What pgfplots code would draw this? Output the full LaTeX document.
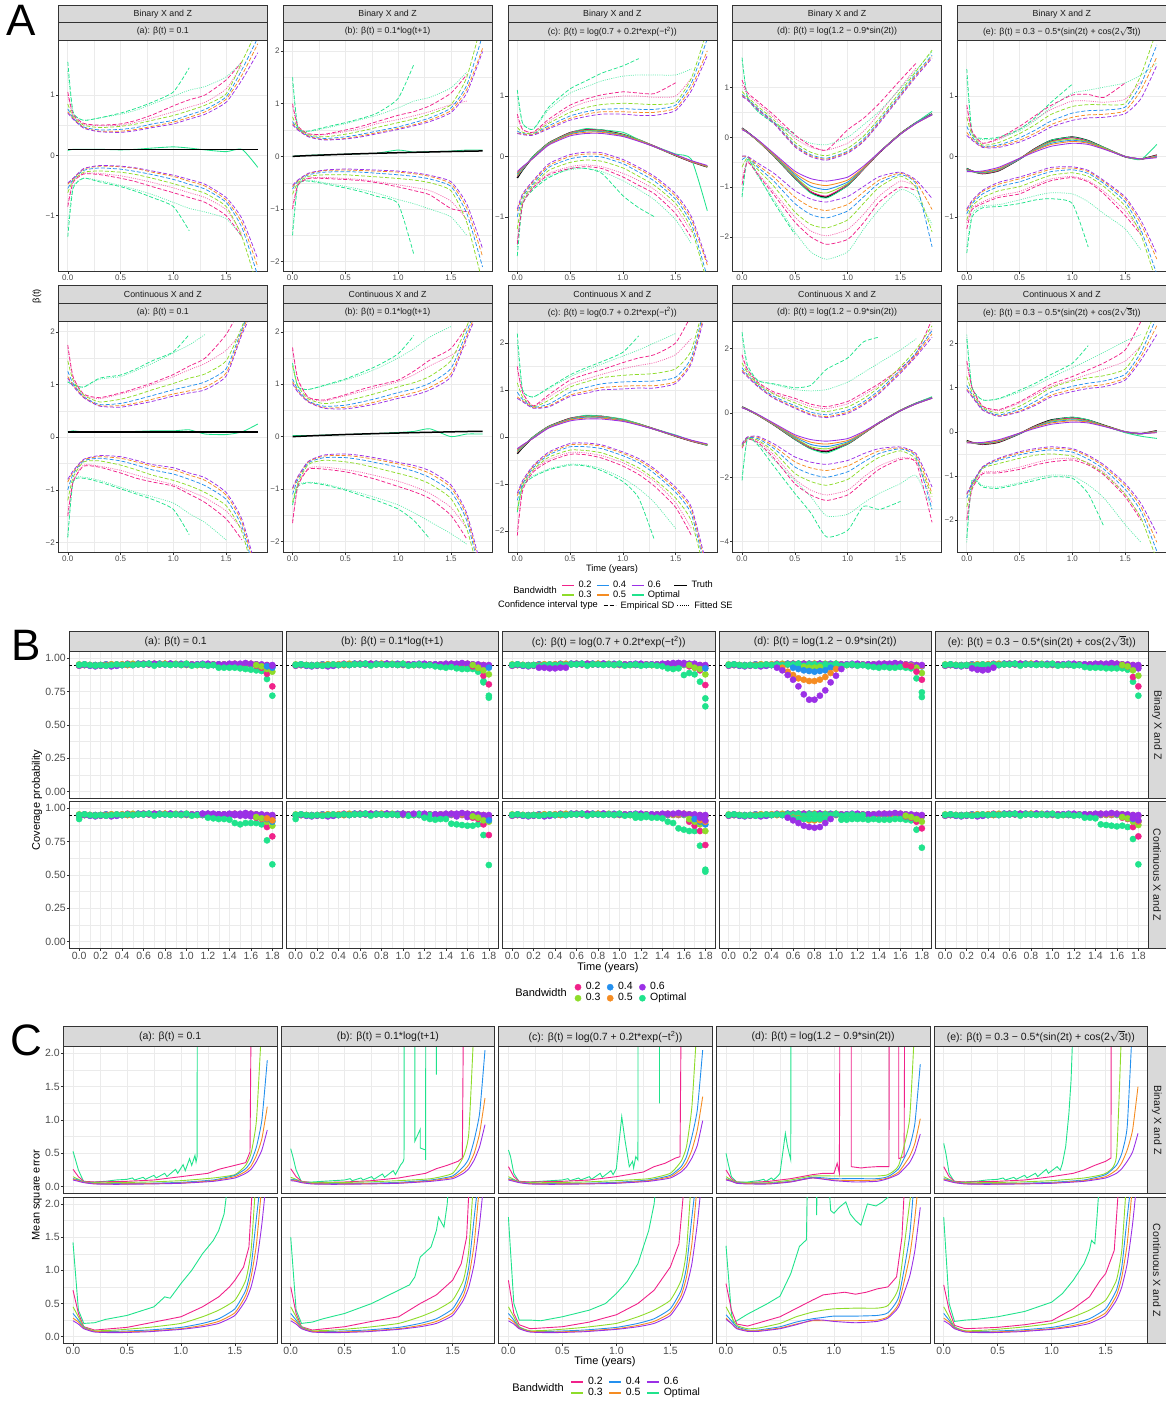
\documentclass[border=0pt]{standalone}
\usepackage{pgfplots}
\pgfplotsset{compat=1.18}
\usepackage{pgfplotstable}
\usepackage{fontspec}
\setmainfont{Liberation Sans}
\definecolor{c2}{HTML}{F0228A}
\definecolor{c3}{HTML}{8EDC2A}
\definecolor{c4}{HTML}{2490EE}
\definecolor{c5}{HTML}{F58C22}
\definecolor{c6}{HTML}{9B30E6}
\definecolor{co}{HTML}{20E38C}
\definecolor{stripgray}{HTML}{D9D9D9}
\definecolor{g10}{HTML}{1A1A1A}
\definecolor{g20}{HTML}{333333}
\definecolor{g30}{HTML}{4D4D4D}
\definecolor{g92}{HTML}{EBEBEB}
\newcommand\fA{\fontsize{8.8}{10}\selectfont}
\newcommand\fT{\fontsize{8}{9}\selectfont}
\newcommand\fB{\fontsize{10.5}{12}\selectfont}
\newcommand\fL{\fontsize{9.3}{11}\selectfont}
\newcommand\fLB{\fontsize{11}{13}\selectfont}
\pgfplotsset{
 gg/.style={scale only axis, anchor=north west,
  axis line style={g20, line width=0.6pt},
  grid=both, major grid style={g92, line width=0.7pt}, minor grid style={g92, line width=0.35pt},
  minor tick num=1, minor tick length=0pt, major tick length=2.5pt,
  tick align=outside, tick style={g20, line width=0.5pt}, tick pos=left,
  unbounded coords=jump, tick label style={text=g30}},
 Ap/.style={gg, width=209pt, xmin=-0.09, xmax=1.89, xtick={0,0.5,1,1.5}, xticklabels={0.0,0.5,1.0,1.5}, tick label style={font=\fT, inner sep=0.8pt}},
 Bp/.style={gg, width=212.5pt, height=146.6pt, xmin=-0.09, xmax=1.89, ymin=-0.05, ymax=1.05,
  xtick={0,0.2,0.4,0.6,0.8,1,1.2,1.4,1.6,1.8}, xticklabels={0.0,0.2,0.4,0.6,0.8,1.0,1.2,1.4,1.6,1.8},
  ytick={0,0.25,0.5,0.75,1}, yticklabels={0.00,0.25,0.50,0.75,1.00}, tick label style={font=\fB, inner sep=1pt}},
 Cp/.style={gg, width=213.7pt, xmin=-0.09, xmax=1.89, ymin=-0.1, ymax=2.1,
  xtick={0,0.5,1,1.5}, xticklabels={0.0,0.5,1.0,1.5},
  ytick={0,0.5,1,1.5,2}, yticklabels={0.0,0.5,1.0,1.5,2.0}, tick label style={font=\fB, inner sep=1pt}},
 noY/.style={ymajorticks=false},
 noX/.style={xmajorticks=false},
 dsh/.style={line width=0.75pt, dash pattern=on 4pt off 2pt, smooth, tension=0.35},
 dtt/.style={line width=0.75pt, dash pattern=on 1pt off 1.2pt, smooth, tension=0.35, opacity=0.7},
 est/.style={line width=0.85pt, smooth, tension=0.35},
 tru/.style={line width=1.5pt, smooth, tension=0.35},
 Bm/.style={only marks, mark=*, mark size=3.1pt},
 Cl/.style={line width=0.9pt},
 Cs/.style={line width=0.9pt, smooth, tension=0.3},
}
% ---------------- A data (one series per line, transposed) ----------------
\pgfplotstableread{
name c0 c1 c2 c3 c4 c5 c6 c7 c8 c9 c10 c11 c12
t 0 0.05 0.15 0.3 0.5 0.65 0.8 1.0 1.15 1.3 1.5 1.65 1.8
tr 0.1 0.1 0.1 0.1 0.1 0.1 0.1 0.1 0.1 0.1 0.1 0.1 0.1
eo 0.08 0.10 0.10 0.10 0.09 0.10 0.12 0.14 0.12 0.09 0.06 0.10 -0.20
u6 0.70 0.60 0.45 0.39 0.38 0.41 0.46 0.52 0.60 0.68 0.88 1.25 1.70
u5 0.72 0.61 0.46 0.40 0.40 0.43 0.48 0.55 0.63 0.72 0.93 1.33 1.85
u4 0.77 0.62 0.47 0.42 0.43 0.46 0.52 0.58 0.67 0.76 0.97 1.42 1.95
u3 0.85 0.64 0.50 0.46 0.48 0.52 0.58 0.66 0.74 0.83 1.02 1.55 2.10
u2 1.05 0.68 0.53 0.50 0.52 0.58 0.67 0.82 0.92 1.00 1.25 1.55 nan
uo 1.55 0.72 0.58 0.62 0.70 0.78 0.88 1.05 1.45 nan nan nan nan
fu2 1.00 0.66 0.52 0.49 0.50 0.55 0.62 0.72 0.80 0.88 1.10 1.50 nan
fuo 1.40 0.70 0.58 0.62 0.68 0.75 0.85 0.98 1.08 1.14 1.30 1.55 nan
l6 -0.46 -0.38 -0.22 -0.17 -0.18 -0.21 -0.26 -0.33 -0.40 -0.48 -0.70 -1.05 -1.72
l5 -0.48 -0.39 -0.23 -0.18 -0.19 -0.22 -0.28 -0.35 -0.43 -0.51 -0.74 -1.12 -1.85
l4 -0.55 -0.40 -0.25 -0.21 -0.23 -0.27 -0.32 -0.40 -0.48 -0.56 -0.78 -1.20 -2.00
l3 -0.62 -0.42 -0.28 -0.26 -0.28 -0.32 -0.38 -0.47 -0.55 -0.63 -0.85 -1.35 -2.20
l2 -0.85 -0.45 -0.31 -0.32 -0.38 -0.44 -0.52 -0.62 -0.70 -0.78 -1.00 -1.35 nan
lo -1.35 -0.55 -0.38 -0.44 -0.52 -0.60 -0.70 -0.85 -1.25 nan nan nan nan
fl2 -0.80 -0.44 -0.30 -0.30 -0.34 -0.39 -0.45 -0.54 -0.62 -0.70 -0.90 -1.30 nan
flo -1.20 -0.52 -0.38 -0.42 -0.50 -0.57 -0.65 -0.78 -0.88 -0.94 -1.05 -1.35 nan
}\rAa
\pgfplotstableread{
name c0 c1 c2 c3 c4 c5 c6 c7 c8 c9 c10 c11 c12
t 0 0.05 0.15 0.3 0.5 0.65 0.8 1.0 1.15 1.3 1.5 1.65 1.8
tr 0 0.005 0.014 0.026 0.041 0.050 0.059 0.069 0.077 0.083 0.092 0.098 0.103
eo 0.0 0.01 0.02 0.03 0.04 0.05 0.06 0.12 0.08 0.09 0.10 0.12 0.12
u6 0.60 0.50 0.37 0.31 0.33 0.37 0.43 0.51 0.58 0.66 0.83 1.20 1.99
u5 0.62 0.51 0.38 0.32 0.34 0.39 0.45 0.53 0.60 0.69 0.87 1.27 2.05
u4 0.66 0.52 0.39 0.34 0.37 0.42 0.48 0.56 0.64 0.73 0.92 1.35 2.30
u3 0.75 0.54 0.41 0.37 0.42 0.48 0.55 0.64 0.71 0.80 0.98 1.50 2.60
u2 1.00 0.58 0.43 0.42 0.50 0.57 0.66 0.78 0.85 0.96 1.20 1.55 nan
uo 1.50 0.55 0.48 0.55 0.64 0.72 0.82 1.10 1.75 nan nan nan nan
fu2 0.95 0.56 0.42 0.41 0.47 0.53 0.62 0.70 0.77 0.85 0.98 1.05 nan
fuo 1.40 0.55 0.47 0.53 0.62 0.70 0.78 0.92 1.05 1.12 1.30 1.60 nan
l6 -0.55 -0.45 -0.32 -0.26 -0.24 -0.25 -0.26 -0.28 -0.31 -0.36 -0.48 -0.90 -1.75
l5 -0.58 -0.46 -0.33 -0.27 -0.26 -0.27 -0.28 -0.30 -0.33 -0.38 -0.52 -0.98 -1.90
l4 -0.62 -0.47 -0.35 -0.30 -0.29 -0.30 -0.32 -0.35 -0.38 -0.43 -0.57 -1.08 -2.10
l3 -0.72 -0.50 -0.38 -0.35 -0.35 -0.37 -0.39 -0.42 -0.45 -0.50 -0.65 -1.25 -2.40
l2 -1.00 -0.55 -0.42 -0.42 -0.44 -0.46 -0.50 -0.58 -0.65 -0.73 -0.99 -1.05 nan
lo -1.50 -0.55 -0.47 -0.52 -0.60 -0.67 -0.76 -0.90 -1.87 nan nan nan nan
fl2 -0.95 -0.53 -0.41 -0.40 -0.42 -0.44 -0.48 -0.54 -0.59 -0.65 -0.85 -1.20 nan
flo -1.40 -0.53 -0.45 -0.50 -0.57 -0.63 -0.70 -0.82 -0.90 -1.00 -1.15 -1.50 nan
}\rAb
\pgfplotstableread{
name c0 c1 c2 c3 c4 c5 c6 c7 c8 c9 c10 c11 c12
t 0 0.05 0.15 0.3 0.5 0.65 0.8 1.0 1.15 1.3 1.5 1.65 1.8
tr -0.357 -0.224 -0.007 0.222 0.391 0.440 0.434 0.362 0.272 0.165 0.016 -0.087 -0.173
e6 -0.25 -0.17 -0.03 0.19 0.34 0.38 0.38 0.33 0.25 0.16 0.03 -0.07 -0.15
e5 -0.27 -0.18 -0.03 0.20 0.36 0.40 0.40 0.34 0.26 0.16 0.02 -0.08 -0.16
e4 -0.29 -0.19 -0.02 0.21 0.37 0.42 0.41 0.35 0.26 0.16 0.02 -0.08 -0.16
e3 -0.31 -0.20 -0.01 0.22 0.38 0.43 0.42 0.36 0.27 0.16 0.02 -0.08 -0.17
e2 -0.33 -0.21 -0.01 0.22 0.39 0.44 0.43 0.36 0.27 0.17 0.02 -0.09 -0.17
eo -0.33 -0.22 0.00 0.22 0.39 0.46 0.44 0.40 0.28 0.17 0.04 -0.05 -0.90
u6 0.38 0.36 0.35 0.46 0.60 0.66 0.70 0.70 0.68 0.68 0.76 1.09 1.67
u5 0.39 0.37 0.36 0.48 0.63 0.70 0.74 0.74 0.73 0.73 0.80 1.15 1.75
u4 0.42 0.38 0.37 0.51 0.67 0.74 0.78 0.79 0.78 0.78 0.85 1.22 1.95
u3 0.48 0.40 0.38 0.55 0.73 0.81 0.86 0.88 0.87 0.86 0.90 1.30 2.10
u2 0.70 0.45 0.40 0.62 0.85 0.95 1.02 1.07 1.05 1.04 1.22 nan nan
uo 1.10 0.55 0.45 0.82 1.12 1.25 1.38 1.50 1.62 nan nan nan nan
fu2 0.65 0.44 0.40 0.58 0.80 0.90 0.96 1.00 1.00 0.98 1.00 1.30 nan
fuo 1.00 0.55 0.45 0.78 1.05 1.15 1.25 1.33 1.35 1.35 1.35 1.45 nan
l6 -0.87 -0.62 -0.40 -0.12 0.03 0.07 0.06 -0.05 -0.18 -0.33 -0.62 -1.00 -1.75
l5 -0.90 -0.64 -0.42 -0.15 0.00 0.04 0.03 -0.08 -0.21 -0.36 -0.66 -1.05 -1.80
l4 -1.00 -0.67 -0.45 -0.18 -0.04 0.00 -0.01 -0.12 -0.26 -0.41 -0.71 -1.12 -2.00
l3 -1.20 -0.72 -0.48 -0.23 -0.10 -0.06 -0.08 -0.19 -0.33 -0.48 -0.78 -1.20 -2.10
l2 -1.45 -0.80 -0.52 -0.30 -0.20 -0.17 -0.20 -0.34 -0.48 -0.62 -0.95 -1.35 nan
lo -1.65 -0.80 -0.55 -0.35 -0.20 -0.20 -0.28 -0.65 -0.85 -1.00 nan nan nan
fl2 -1.40 -0.78 -0.50 -0.28 -0.17 -0.14 -0.17 -0.28 -0.40 -0.55 -0.85 -1.25 nan
flo -1.50 -0.75 -0.52 -0.33 -0.22 -0.20 -0.25 -0.40 -0.55 -0.72 -1.05 -1.45 nan
}\rAc
\pgfplotstableread{
name c0 c1 c2 c3 c4 c5 c6 c7 c8 c9 c10 c11 c12
t 0 0.05 0.15 0.3 0.5 0.65 0.8 1.0 1.15 1.3 1.5 1.65 1.8
tr 0.182 0.105 -0.068 -0.368 -0.815 -1.100 -1.203 -0.963 -0.637 -0.307 0.071 0.294 0.469
e6 0.15 0.10 -0.05 -0.32 -0.68 -0.83 -0.88 -0.80 -0.58 -0.30 0.06 0.28 0.45
e5 0.16 0.10 -0.06 -0.34 -0.72 -0.91 -0.97 -0.86 -0.61 -0.30 0.06 0.28 0.45
e4 0.17 0.10 -0.06 -0.35 -0.75 -0.98 -1.05 -0.90 -0.62 -0.30 0.06 0.29 0.46
e3 0.17 0.10 -0.07 -0.36 -0.78 -1.05 -1.12 -0.93 -0.63 -0.30 0.07 0.29 0.46
e2 0.18 0.10 -0.07 -0.37 -0.80 -1.09 -1.18 -0.95 -0.64 -0.31 0.07 0.29 0.47
eo 0.18 0.10 -0.07 -0.37 -0.82 -1.12 -1.22 -0.97 -0.64 -0.30 0.07 0.30 0.52
u6 0.82 0.75 0.55 0.28 -0.19 -0.39 -0.46 -0.32 -0.09 0.28 0.82 1.22 1.59
u5 0.84 0.76 0.56 0.29 -0.17 -0.37 -0.44 -0.30 -0.07 0.30 0.84 1.25 1.62
u4 0.86 0.78 0.58 0.31 -0.15 -0.35 -0.42 -0.28 -0.04 0.33 0.87 1.28 1.65
u3 0.92 0.81 0.62 0.35 -0.10 -0.30 -0.37 -0.22 0.02 0.38 0.92 1.33 1.75
u2 1.15 0.90 0.72 0.45 0.05 -0.17 -0.26 0.15 0.38 0.68 1.15 1.49 nan
uo 1.60 0.82 0.52 0.28 0.08 nan nan nan nan nan nan nan nan
fu2 1.05 0.86 0.68 0.40 -0.02 -0.20 -0.26 -0.12 0.12 0.48 1.00 1.40 nan
fuo 1.55 0.80 0.52 0.30 0.02 -0.12 -0.15 0.00 0.25 0.52 0.98 1.35 1.72
l6 -0.38 -0.38 -0.52 -0.72 -1.07 -1.24 -1.30 -1.19 -0.99 -0.79 -0.70 -0.86 -1.23
l5 -0.38 -0.39 -0.56 -0.80 -1.20 -1.40 -1.47 -1.35 -1.10 -0.86 -0.72 -0.90 -1.45
l4 -0.45 -0.40 -0.60 -0.88 -1.33 -1.55 -1.62 -1.48 -1.20 -0.92 -0.75 -0.95 -2.20
l3 -0.60 -0.42 -0.65 -0.98 -1.50 -1.75 -1.82 -1.66 -1.33 -1.00 -0.78 -1.02 -1.90
l2 -0.95 -0.50 -0.75 -1.15 -1.70 -2.00 -2.15 -2.05 -1.72 -1.30 -1.00 -1.07 nan
lo -1.20 -0.45 -0.75 -1.30 -1.95 nan nan nan nan nan nan nan nan
fl2 -0.85 -0.48 -0.72 -1.10 -1.60 -1.88 -1.98 -1.85 -1.55 -1.18 -0.88 -0.98 nan
flo -1.15 -0.45 -0.78 -1.25 -1.90 -2.30 -2.45 -2.30 -1.85 -1.45 -1.05 -1.20 -1.75
}\rAd
\pgfplotstableread{
name c0 c1 c2 c3 c4 c5 c6 c7 c8 c9 c10 c11 c12
t 0 0.05 0.15 0.3 0.5 0.65 0.8 1.0 1.15 1.3 1.5 1.65 1.8
tr -0.200 -0.242 -0.282 -0.235 -0.041 0.133 0.266 0.321 0.262 0.146 -0.003 -0.042 0.022
e6 -0.25 -0.25 -0.24 -0.18 -0.03 0.08 0.17 0.22 0.20 0.12 0.00 -0.04 -0.02
e5 -0.24 -0.25 -0.25 -0.20 -0.03 0.10 0.20 0.25 0.22 0.13 0.00 -0.04 -0.01
e4 -0.23 -0.25 -0.26 -0.21 -0.04 0.11 0.22 0.27 0.23 0.13 0.00 -0.04 0.00
e3 -0.22 -0.25 -0.27 -0.22 -0.04 0.12 0.24 0.29 0.24 0.14 0.00 -0.04 0.01
e2 -0.21 -0.24 -0.28 -0.23 -0.04 0.13 0.25 0.31 0.25 0.14 0.00 -0.04 0.02
eo -0.20 -0.24 -0.28 -0.23 -0.04 0.13 0.27 0.32 0.26 0.15 0.00 -0.05 0.20
u6 0.35 0.27 0.15 0.15 0.24 0.35 0.49 0.60 0.64 0.65 0.71 0.96 1.51
u5 0.40 0.29 0.16 0.17 0.27 0.39 0.53 0.65 0.69 0.70 0.76 1.10 1.65
u4 0.50 0.32 0.17 0.19 0.31 0.44 0.59 0.72 0.76 0.77 0.82 1.20 1.85
u3 0.65 0.36 0.19 0.23 0.38 0.53 0.70 0.83 0.86 0.86 0.88 1.35 2.10
u2 0.85 0.42 0.22 0.30 0.50 0.68 0.85 1.02 1.03 0.98 1.22 nan nan
uo 1.45 0.40 0.30 0.32 0.45 0.65 0.90 1.20 nan nan nan nan nan
fu2 0.80 0.40 0.22 0.28 0.46 0.62 0.78 0.92 0.92 0.90 0.95 1.25 nan
fuo 1.30 0.38 0.28 0.30 0.43 0.60 0.82 1.05 1.10 1.15 1.22 1.35 1.55
l6 -0.87 -0.73 -0.56 -0.43 -0.34 -0.26 -0.18 -0.17 -0.23 -0.40 -0.67 -1.06 -1.61
l5 -0.90 -0.75 -0.58 -0.46 -0.37 -0.29 -0.21 -0.19 -0.25 -0.42 -0.70 -1.12 -1.70
l4 -0.95 -0.78 -0.62 -0.50 -0.42 -0.33 -0.25 -0.22 -0.28 -0.45 -0.75 -1.22 -1.95
l3 -1.05 -0.82 -0.68 -0.57 -0.50 -0.40 -0.31 -0.27 -0.33 -0.50 -0.82 -1.30 -2.10
l2 -1.20 -0.88 -0.78 -0.68 -0.62 -0.50 -0.40 -0.35 -0.42 -0.62 -0.98 -1.30 nan
lo -1.60 -1.00 -0.85 -0.83 -0.78 -0.72 -0.70 -0.78 -1.50 nan nan nan nan
fl2 -1.10 -0.85 -0.75 -0.65 -0.58 -0.47 -0.37 -0.33 -0.40 -0.58 -0.90 -1.25 nan
flo -1.50 -0.95 -0.82 -0.80 -0.72 -0.65 -0.60 -0.62 -0.75 -0.95 -1.20 -1.55 nan
}\rAe
\pgfplotstableread{
name c0 c1 c2 c3 c4 c5 c6 c7 c8 c9 c10 c11 c12
t 0 0.05 0.15 0.3 0.5 0.65 0.8 1.0 1.15 1.3 1.5 1.65 1.8
tr 0.1 0.1 0.1 0.1 0.1 0.1 0.1 0.1 0.1 0.1 0.1 0.1 0.1
eo 0.10 0.12 0.10 0.10 0.10 0.11 0.12 0.12 0.14 0.06 0.05 0.10 0.25
u6 1.12 0.97 0.75 0.59 0.57 0.62 0.68 0.78 0.84 0.90 1.16 1.95 2.6
u5 1.15 0.99 0.76 0.60 0.60 0.65 0.72 0.82 0.88 0.95 1.22 2.00 2.7
u4 1.25 1.02 0.77 0.62 0.64 0.71 0.79 0.90 0.97 1.05 1.30 2.05 2.8
u3 1.45 1.08 0.80 0.67 0.72 0.80 0.90 1.02 1.12 1.20 1.45 2.10 2.9
u2 1.75 1.15 0.82 0.75 0.84 0.93 1.03 1.19 1.35 1.50 1.95 2.50 nan
uo 1.05 1.00 0.95 1.12 1.18 1.30 1.45 1.62 1.95 nan nan nan nan
fu2 1.70 1.12 0.80 0.73 0.82 0.90 1.00 1.15 1.28 1.40 1.65 2.00 nan
fuo 1.05 0.98 0.95 1.10 1.15 1.27 1.40 1.60 1.75 1.95 nan nan nan
l6 -0.80 -0.64 -0.42 -0.35 -0.37 -0.44 -0.52 -0.58 -0.68 -0.77 -1.05 -1.56 -2.6
l5 -0.85 -0.66 -0.43 -0.37 -0.40 -0.47 -0.55 -0.62 -0.72 -0.82 -1.10 -1.62 -2.7
l4 -1.00 -0.70 -0.45 -0.40 -0.45 -0.53 -0.62 -0.70 -0.80 -0.92 -1.18 -1.70 -2.8
l3 -1.20 -0.76 -0.47 -0.45 -0.53 -0.62 -0.72 -0.82 -0.92 -1.05 -1.30 -1.80 -2.9
l2 -1.50 -0.85 -0.55 -0.57 -0.68 -0.78 -0.85 -0.93 -1.08 -1.24 -1.55 -1.95 nan
lo -1.90 -0.85 -0.78 -0.85 -0.98 -1.08 -1.18 -1.37 -1.85 nan nan nan nan
fl2 -1.45 -0.83 -0.53 -0.55 -0.63 -0.72 -0.80 -0.90 -1.02 -1.15 -1.40 -1.75 nan
flo -1.90 -0.82 -0.76 -0.82 -0.95 -1.05 -1.13 -1.25 -1.45 -1.62 -1.95 nan nan
}\rBa
\pgfplotstableread{
name c0 c1 c2 c3 c4 c5 c6 c7 c8 c9 c10 c11 c12
t 0 0.05 0.15 0.3 0.5 0.65 0.8 1.0 1.15 1.3 1.5 1.65 1.8
tr 0 0.005 0.014 0.026 0.041 0.050 0.059 0.069 0.077 0.083 0.092 0.098 0.103
eo 0.02 0.02 0.02 0.03 0.04 0.05 0.06 0.08 0.10 0.15 0.00 0.05 0.05
u6 1.01 0.85 0.66 0.54 0.53 0.57 0.63 0.73 0.79 0.89 1.14 1.87 2.6
u5 1.05 0.87 0.67 0.55 0.56 0.60 0.67 0.77 0.84 0.94 1.20 1.92 2.7
u4 1.10 0.90 0.68 0.58 0.60 0.66 0.73 0.84 0.91 1.02 1.30 2.00 2.8
u3 1.35 0.97 0.72 0.63 0.68 0.75 0.83 0.95 1.03 1.15 1.45 2.10 2.9
u2 1.70 1.10 0.75 0.70 0.80 0.90 0.98 1.08 1.25 1.46 1.68 2.10 nan
uo 1.40 0.95 0.90 0.98 1.10 1.22 1.35 1.58 1.93 nan nan nan nan
fu2 1.65 1.08 0.74 0.68 0.78 0.86 0.94 1.05 1.18 1.35 1.55 1.75 nan
fuo 1.40 0.95 0.90 0.97 1.08 1.18 1.30 1.50 1.68 1.90 2.10 nan nan
l6 -0.98 -0.76 -0.47 -0.35 -0.33 -0.36 -0.41 -0.49 -0.55 -0.65 -0.92 -1.46 -2.6
l5 -1.00 -0.78 -0.48 -0.37 -0.36 -0.39 -0.44 -0.52 -0.59 -0.70 -0.97 -1.52 -2.7
l4 -1.10 -0.82 -0.50 -0.40 -0.40 -0.44 -0.50 -0.58 -0.66 -0.78 -1.05 -1.60 -2.8
l3 -1.25 -0.88 -0.53 -0.45 -0.48 -0.53 -0.60 -0.70 -0.78 -0.90 -1.18 -1.75 -2.9
l2 -1.65 -0.95 -0.62 -0.62 -0.67 -0.74 -0.82 -0.95 -1.05 -1.18 -1.50 -1.95 nan
lo -1.30 -0.95 -0.88 -0.92 -1.02 -1.12 -1.22 -1.38 -1.60 -1.95 nan nan nan
fl2 -1.60 -0.93 -0.60 -0.58 -0.63 -0.68 -0.75 -0.85 -0.95 -1.08 -1.35 -1.75 nan
flo -1.30 -0.92 -0.87 -0.90 -1.00 -1.08 -1.17 -1.30 -1.45 -1.62 -1.85 -2.05 nan
}\rBb
\pgfplotstableread{
name c0 c1 c2 c3 c4 c5 c6 c7 c8 c9 c10 c11 c12
t 0 0.05 0.15 0.3 0.5 0.65 0.8 1.0 1.15 1.3 1.5 1.65 1.8
eo -0.33 -0.22 0.00 0.22 0.39 0.46 0.44 0.38 0.28 0.17 0.04 -0.08 -0.18
u6 0.82 0.75 0.61 0.64 0.86 0.93 1.00 1.02 1.04 1.04 1.14 1.57 2.8
u5 0.85 0.77 0.62 0.66 0.89 0.97 1.05 1.08 1.09 1.09 1.18 1.62 2.9
u4 0.95 0.80 0.63 0.70 0.95 1.05 1.13 1.17 1.18 1.19 1.27 1.70 3.0
u3 1.15 0.85 0.64 0.78 1.06 1.17 1.26 1.31 1.33 1.35 1.45 1.85 3.1
u2 1.50 0.95 0.66 0.90 1.21 1.33 1.43 1.58 1.68 1.75 2.00 2.60 nan
uo 2.20 1.00 0.85 1.05 1.32 1.47 1.60 1.80 2.15 nan nan nan nan
fu2 1.45 0.93 0.65 0.85 1.12 1.23 1.33 1.45 1.52 1.58 1.75 2.10 nan
fuo 2.00 1.00 0.85 1.03 1.28 1.42 1.55 1.72 1.85 2.00 2.20 nan nan
l6 -1.20 -0.93 -0.61 -0.32 -0.14 -0.13 -0.17 -0.32 -0.46 -0.68 -1.07 -1.50 -2.8
l5 -1.25 -0.96 -0.63 -0.35 -0.17 -0.16 -0.20 -0.35 -0.50 -0.72 -1.12 -1.56 -2.9
l4 -1.35 -1.00 -0.66 -0.38 -0.21 -0.21 -0.25 -0.40 -0.55 -0.78 -1.18 -1.65 -3.0
l3 -1.55 -1.05 -0.70 -0.43 -0.28 -0.29 -0.34 -0.50 -0.66 -0.90 -1.30 -1.80 -3.1
l2 -2.10 -1.15 -0.75 -0.52 -0.37 -0.38 -0.45 -0.62 -0.80 -1.05 -1.50 -2.10 nan
lo -1.60 -1.05 -0.85 -0.70 -0.60 -0.62 -0.72 -0.95 -1.30 -2.20 nan nan nan
fl2 -2.00 -1.10 -0.72 -0.48 -0.33 -0.34 -0.40 -0.55 -0.72 -0.95 -1.40 -1.95 nan
flo -1.60 -1.00 -0.83 -0.68 -0.58 -0.60 -0.68 -0.88 -1.10 -1.40 -1.95 nan nan
}\rBc
\pgfplotstableread{
name c0 c1 c2 c3 c4 c5 c6 c7 c8 c9 c10 c11 c12
t 0 0.05 0.15 0.3 0.5 0.65 0.8 1.0 1.15 1.3 1.5 1.65 1.8
eo 0.18 0.10 -0.07 -0.37 -0.82 -1.12 -1.25 -0.97 -0.64 -0.30 0.07 0.30 0.50
u6 1.28 1.12 0.81 0.45 0.14 -0.07 -0.15 -0.02 0.24 0.60 1.23 1.75 2.35
u5 1.32 1.15 0.83 0.47 0.17 -0.04 -0.12 0.02 0.28 0.64 1.27 1.80 2.45
u4 1.40 1.18 0.86 0.51 0.22 0.02 -0.06 0.08 0.34 0.70 1.33 1.87 2.55
u3 1.55 1.25 0.90 0.58 0.31 0.12 0.04 0.18 0.44 0.80 1.43 1.97 2.70
u2 1.80 1.35 0.95 0.65 0.45 0.27 0.19 0.35 0.62 0.91 1.38 1.85 2.90
uo 2.50 1.50 1.00 0.90 0.78 0.85 1.35 1.70 2.20 2.35 nan nan nan
fu2 1.75 1.30 0.92 0.60 0.38 0.20 0.13 0.28 0.55 0.85 1.30 1.80 2.60
fuo 2.40 1.40 1.00 0.88 0.72 0.68 0.72 0.95 1.25 1.55 1.95 2.30 nan
l6 -0.96 -0.75 -0.73 -0.96 -1.37 -1.53 -1.60 -1.48 -1.27 -1.11 -1.06 -1.27 -2.30
l5 -0.98 -0.76 -0.76 -1.03 -1.52 -1.71 -1.79 -1.65 -1.40 -1.18 -1.09 -1.32 -2.50
l4 -1.00 -0.77 -0.80 -1.10 -1.68 -1.90 -2.00 -1.83 -1.53 -1.26 -1.12 -1.38 -3.00
l3 -1.05 -0.78 -0.85 -1.20 -1.88 -2.13 -2.25 -2.07 -1.70 -1.38 -1.18 -1.45 -2.60
l2 -1.10 -0.82 -0.92 -1.40 -2.20 -2.55 -2.72 -2.55 -2.15 -1.75 -1.45 -1.55 -3.40
lo -2.10 -0.80 -1.00 -1.65 -2.50 -3.10 -3.85 -3.65 -2.90 -3.00 -2.75 nan nan
fl2 -1.05 -0.80 -0.88 -1.30 -2.05 -2.40 -2.55 -2.40 -2.00 -1.65 -1.40 -1.50 -2.80
flo -2.00 -0.85 -0.95 -1.45 -2.10 -2.60 -3.20 -3.15 -2.80 -2.50 -2.20 -1.95 -3.00
}\rBd
\pgfplotstableread{
name c0 c1 c2 c3 c4 c5 c6 c7 c8 c9 c10 c11 c12
t 0 0.05 0.15 0.3 0.5 0.65 0.8 1.0 1.15 1.3 1.5 1.65 1.8
eo -0.22 -0.25 -0.27 -0.22 -0.04 0.12 0.26 0.33 0.27 0.14 -0.02 -0.10 -0.15
u6 0.94 0.79 0.49 0.35 0.45 0.60 0.79 0.91 0.98 1.02 1.17 1.62 2.20
u5 0.97 0.81 0.50 0.36 0.47 0.63 0.83 0.96 1.03 1.07 1.22 1.70 2.40
u4 1.05 0.84 0.52 0.38 0.51 0.69 0.90 1.03 1.10 1.15 1.30 1.80 2.60
u3 1.25 0.90 0.55 0.42 0.58 0.78 1.00 1.15 1.22 1.27 1.42 1.95 2.80
u2 1.60 1.00 0.58 0.50 0.68 0.88 1.08 1.25 1.40 1.56 1.85 2.50 nan
uo 2.10 1.00 0.72 0.75 0.94 1.10 1.30 1.55 1.95 nan nan nan nan
fu2 1.55 0.98 0.57 0.48 0.65 0.84 1.03 1.18 1.30 1.42 1.60 1.95 nan
fuo 2.20 1.00 0.72 0.74 0.90 1.05 1.23 1.45 1.62 1.80 2.05 2.20 nan
l6 -1.40 -1.17 -0.79 -0.60 -0.45 -0.38 -0.34 -0.38 -0.53 -0.75 -1.17 -1.62 -2.30
l5 -1.42 -1.18 -0.80 -0.62 -0.48 -0.41 -0.37 -0.41 -0.56 -0.79 -1.22 -1.70 -2.50
l4 -1.50 -1.20 -0.81 -0.65 -0.52 -0.45 -0.41 -0.46 -0.62 -0.85 -1.30 -1.80 -2.70
l3 -1.70 -1.25 -0.83 -0.72 -0.60 -0.53 -0.50 -0.55 -0.72 -0.95 -1.42 -1.95 -2.90
l2 -2.00 -1.30 -0.95 -0.93 -0.85 -0.75 -0.68 -0.64 -0.75 -0.98 -1.47 -2.00 nan
lo -2.40 -1.10 -1.25 -1.28 -1.18 -1.10 -1.02 -1.05 -1.40 -2.15 nan nan nan
fl2 -1.95 -1.28 -0.92 -0.90 -0.80 -0.70 -0.62 -0.60 -0.70 -0.92 -1.40 -1.95 nan
flo -2.50 -1.10 -1.22 -1.25 -1.15 -1.05 -0.98 -1.00 -1.20 -1.50 -2.10 -2.50 nan
}\rBe
\pgfplotstabletranspose[colnames from=name]{\tAa}{\rAa}
\pgfplotstabletranspose[colnames from=name]{\tAb}{\rAb}
\pgfplotstabletranspose[colnames from=name]{\tAc}{\rAc}
\pgfplotstabletranspose[colnames from=name]{\tAd}{\rAd}
\pgfplotstabletranspose[colnames from=name]{\tAe}{\rAe}
\pgfplotstabletranspose[colnames from=name]{\tBa}{\rBa}
\pgfplotstabletranspose[colnames from=name]{\tBb}{\rBb}
\pgfplotstabletranspose[colnames from=name]{\tBc}{\rBc}
\pgfplotstabletranspose[colnames from=name]{\tBd}{\rBd}
\pgfplotstabletranspose[colnames from=name]{\tBe}{\rBe}
% ---------------- B data ----------------
\pgfplotstableread{
t p2 p3 p4 p5 p6 po
0.00 .95 .955 .95 .945 .945 .95
0.05 .955 .95 .955 .95 .95 .955
0.10 .95 .95 .945 .95 .945 .95
0.15 .945 .95 .95 .945 .94 .945
0.20 .95 .945 .95 .95 .945 .95
0.25 .955 .95 .955 .95 .945 .945
0.30 .95 .955 .95 .955 .94 .95
0.35 .955 .95 .945 .95 .945 .955
0.40 .95 .955 .95 .955 .95 .95
0.45 .96 .95 .955 .95 .955 .955
0.50 .955 .96 .95 .955 .95 .95
0.55 .96 .955 .96 .955 .955 .955
0.60 .955 .96 .955 .96 .96 .955
0.65 .96 .955 .96 .955 .955 .96
0.70 .955 .96 .955 .96 .96 .945
0.75 .96 .955 .96 .955 .955 .955
0.80 .955 .96 .955 .96 .955 .955
0.85 .96 .955 .96 .955 .96 .95
0.90 .955 .96 .955 .955 .955 .955
0.95 .95 .955 .96 .955 .955 .95
1.00 .955 .95 .955 .96 .955 .96
1.05 .95 .955 .95 .955 .955 .945
1.10 .955 .95 .955 .95 .955 .95
1.15 .95 .955 .95 .955 .96 .955
1.20 .955 .95 .955 .95 .96 .945
1.25 .95 .955 .95 .955 .955 .95
1.30 .955 .95 .955 .95 .955 nan
1.35 .95 .955 .955 .955 .955 nan
1.40 .955 .95 .95 .955 .96 nan
1.45 .95 .955 .955 .96 .96 nan
1.50 .955 .95 .955 .955 .96 nan
1.55 .95 .955 .96 .96 .965 nan
1.60 .955 .95 .955 .96 .96 nan
1.65 nan nan .955 .955 .955 nan
1.70 nan nan .95 .95 .955 nan
1.75 nan nan .945 .95 .95 nan
1.80 nan nan .94 .945 .95 nan
}\tflat
% ---------------- C data ----------------
\pgfplotstableread{
t p6 p5 p4 p3
0 .10 .11 .12 .15
0.05 .08 .09 .10 .11
0.1 .06 .065 .07 .075
0.2 .04 .045 .05 .06
0.4 .035 .04 .045 .06
0.7 .04 .045 .05 .07
1.0 .05 .055 .065 .09
1.3 .08 .09 .10 .13
1.5 .13 .15 .17 .18
1.6 .20 .23 .27 .32
1.65 .26 .31 .38 .50
1.7 .38 .47 .60 1.00
1.75 .55 .72 1.00 2.50
1.8 .85 1.20 1.90 nan
}\tCa
\pgfplotstableread{
t p6 p5 p4 p3
0 .09 .10 .11 .14
0.05 .08 .09 .10 .11
0.1 .06 .065 .07 .075
0.2 .04 .045 .05 .06
0.4 .035 .04 .045 .06
0.7 .04 .045 .05 .07
1.0 .05 .055 .065 .09
1.3 .08 .09 .10 .12
1.5 .12 .14 .16 .20
1.6 .20 .24 .30 .45
1.65 .27 .33 .42 .80
1.7 .40 .50 .70 2.50
1.75 .60 .80 1.10 nan
1.8 .93 1.33 2.05 nan
}\tCb
\pgfplotstableread{
t p6 p5 p4 p3
0 .10 .11 .12 .15
0.05 .08 .09 .10 .11
0.1 .06 .065 .07 .075
0.2 .04 .045 .05 .06
0.4 .035 .04 .045 .06
0.7 .04 .045 .05 .07
1.0 .05 .055 .065 .09
1.3 .08 .09 .10 .12
1.5 .13 .15 .17 .20
1.6 .22 .26 .30 .38
1.65 .30 .36 .45 .60
1.7 .43 .55 .75 1.20
1.75 .62 .85 1.15 2.50
1.8 .99 1.35 2.05 nan
}\tCc
\pgfplotstableread{
t p6 p5 p4 p3
0 .10 .11 .12 .15
0.05 .08 .085 .09 .10
0.1 .05 .055 .06 .07
0.2 .04 .045 .05 .06
0.4 .04 .045 .05 .06
0.6 .07 .075 .08 .10
0.8 .13 .13 .14 .16
1.0 .09 .10 .12 .16
1.2 .07 .09 .12 .16
1.4 .08 .10 .12 .16
1.5 .12 .13 .15 .18
1.6 .19 .22 .27 .32
1.7 .36 .45 .60 1.00
1.75 .52 .65 .95 2.50
1.8 .79 1.02 1.84 nan
}\tCd
\pgfplotstableread{
t p6 p5 p4 p3
0 .10 .11 .12 .15
0.05 .08 .09 .10 .11
0.1 .06 .065 .07 .075
0.2 .04 .045 .05 .06
0.4 .035 .04 .045 .06
0.7 .04 .045 .05 .07
1.0 .05 .055 .065 .09
1.3 .08 .09 .10 .13
1.5 .13 .15 .18 .20
1.6 .20 .25 .32 .45
1.65 .27 .36 .50 2.50
1.7 .38 .55 .90 nan
1.75 .52 .85 2.50 nan
1.8 .80 1.50 nan nan
}\tCe
\pgfplotstableread{
t p6 p5 p4 p3
0 .24 .28 .35 .45
0.05 .19 .22 .25 .30
0.1 .12 .13 .14 .15
0.2 .07 .08 .08 .09
0.4 .06 .07 .08 .10
0.7 .075 .085 .10 .14
1.0 .11 .12 .14 .20
1.2 .15 .17 .20 .30
1.35 .20 .23 .27 .40
1.5 .32 .36 .42 .55
1.6 .55 .62 .70 .85
1.65 .75 .90 1.05 1.30
1.7 1.10 1.40 1.80 2.50
1.75 1.70 2.30 2.50 nan
1.8 2.50 nan nan nan
}\tCk
\pgfplotstableread{
t p6 p5 p4 p3
0 .26 .28 .33 .45
0.05 .20 .20 .24 .30
0.1 .12 .13 .15 .17
0.2 .08 .09 .10 .12
0.3 .08 .09 .10 .13
0.5 .12 .13 .15 .20
0.65 .18 .19 .22 .30
0.8 .25 .24 .27 .37
0.9 .25 .24 .29 .40
1.0 .23 .24 .31 .42
1.2 .21 .24 .31 .43
1.4 .23 .25 .32 .43
1.5 .28 .30 .36 .47
1.6 .45 .50 .60 .75
1.7 .90 1.20 1.50 2.00
1.75 1.30 1.80 2.50 2.60
1.8 1.95 2.60 nan nan
}\tCkd
% ---------------- macros ----------------
\newcommand{\Aband}[1]{%
 \addplot[c2,dtt] table[x=t,y=fu2]{#1};
 \addplot[c2,dtt] table[x=t,y=fl2]{#1};
 \addplot[co,dtt] table[x=t,y=fuo]{#1};
 \addplot[co,dtt] table[x=t,y=flo]{#1};
 \addplot[co,dsh] table[x=t,y=uo]{#1};
 \addplot[co,dsh] table[x=t,y=lo]{#1};
 \addplot[c2,dsh] table[x=t,y=u2]{#1};
 \addplot[c2,dsh] table[x=t,y=l2]{#1};
 \addplot[c3,dsh] table[x=t,y=u3]{#1};
 \addplot[c3,dsh] table[x=t,y=l3]{#1};
 \addplot[c4,dsh] table[x=t,y=u4]{#1};
 \addplot[c4,dsh] table[x=t,y=l4]{#1};
 \addplot[c5,dsh] table[x=t,y=u5]{#1};
 \addplot[c5,dsh] table[x=t,y=l5]{#1};
 \addplot[c6,dsh] table[x=t,y=u6]{#1};
 \addplot[c6,dsh] table[x=t,y=l6]{#1};}
\newcommand{\Asimple}[1]{%
 \addplot[co,est] table[x=t,y=eo]{#1};
 \addplot[black,tru] table[x=t,y=tr]{#1};}
\newcommand{\Afull}[2]{%
 \addplot[black,tru] table[x=t,y=tr]{#1};
 \addplot[co,est] table[x=t,y=eo]{#2};
 \addplot[c2,est] table[x=t,y=e2]{#1};
 \addplot[c3,est] table[x=t,y=e3]{#1};
 \addplot[c4,est] table[x=t,y=e4]{#1};
 \addplot[c5,est] table[x=t,y=e5]{#1};
 \addplot[c6,est] table[x=t,y=e6]{#1};}
\newcommand{\Bflat}{%
 \addplot[black, dash pattern=on 3pt off 2pt, line width=0.6pt] coordinates {(-0.09,0.95)(1.89,0.95)};
 \addplot[Bm,c2] table[x=t,y=p2]{\tflat};
 \addplot[Bm,c3] table[x=t,y=p3]{\tflat};
 \addplot[Bm,c4] table[x=t,y=p4]{\tflat};
 \addplot[Bm,c5] table[x=t,y=p5]{\tflat};
 \addplot[Bm,c6] table[x=t,y=p6]{\tflat};
 \addplot[Bm,co] table[x=t,y=po]{\tflat};}
\newcommand{\Csm}[1]{%
 \addplot[c3,Cs] table[x=t,y=p3]{#1};
 \addplot[c4,Cs] table[x=t,y=p4]{#1};
 \addplot[c5,Cs] table[x=t,y=p5]{#1};
 \addplot[c6,Cs] table[x=t,y=p6]{#1};}
\newcommand{\strip}[6][0]{%
 \draw[fill=stripgray, draw=g20, line width=0.6pt] (#2pt,-#3pt) rectangle (#4pt,-#5pt);
 \pgfmathsetmacro{\cx}{(#2+#4)/2}\pgfmathsetmacro{\cy}{-(#3+#5)/2}
 \node[rotate=#1, text=g10, inner sep=0pt] at (\cx pt,\cy pt) {#6};}
\newcommand\Fa{(a): β(t) = 0.1}
\newcommand\Fb{(b): β(t) = 0.1*log(t+1)}
\newcommand\Fc{(c): β(t) = log(0.7 + 0.2t*exp(−t\textsuperscript{2}))}
\newcommand\Fd{(d): β(t) = log(1.2 − 0.9*sin(2t))}
\newcommand\Fe{(e): β(t) = 0.3 − 0.5*(sin(2t) + cos(2$\sqrt{\mbox{3}}$t))}
\begin{document}
\begin{tikzpicture}
\useasboundingbox (0pt,0pt) rectangle (1165pt,-1403pt);
% ======================= A =======================
\begin{axis}[Ap, at={(58.3pt,-40.7pt)}, height=231pt, ymin=-1.93, ymax=1.90, ytick={-1,0,1}, yticklabels={−1,0,1}]
\Aband{\tAa}\Asimple{\tAa}
\end{axis}
\begin{axis}[Ap, at={(283.05pt,-40.7pt)}, height=231pt, ymin=-2.19, ymax=2.196, ytick={-2,-1,0,1,2}, yticklabels={−2,−1,0,1,2}]
\Aband{\tAb}\Asimple{\tAb}
\end{axis}
\begin{axis}[Ap, at={(507.8pt,-40.7pt)}, height=231pt, ymin=-1.91, ymax=1.917, ytick={-1,0,1}, yticklabels={−1,0,1}]
\Aband{\tAc}\Afull{\tAc}{\tAc}
\end{axis}
\begin{axis}[Ap, at={(732.55pt,-40.7pt)}, height=231pt, ymin=-2.70, ymax=1.94, ytick={-2,-1,0,1}, yticklabels={−2,−1,0,1}]
\Aband{\tAd}\Afull{\tAd}{\tAd}
\end{axis}
\begin{axis}[Ap, at={(957.3pt,-40.7pt)}, height=231pt, ymin=-1.91, ymax=1.92, ytick={-1,0,1}, yticklabels={−1,0,1}]
\Aband{\tAe}\Afull{\tAe}{\tAe}
\end{axis}
\begin{axis}[Ap, at={(58.3pt,-321.3pt)}, height=230.7pt, ymin=-2.18, ymax=2.20, ytick={-2,-1,0,1,2}, yticklabels={−2,−1,0,1,2}]
\Aband{\tBa}\Asimple{\tBa}
\end{axis}
\begin{axis}[Ap, at={(283.05pt,-321.3pt)}, height=230.7pt, ymin=-2.2, ymax=2.2, ytick={-2,-1,0,1,2}, yticklabels={−2,−1,0,1,2}]
\Aband{\tBb}\Asimple{\tBb}
\end{axis}
\begin{axis}[Ap, at={(507.8pt,-321.3pt)}, height=230.7pt, ymin=-2.45, ymax=2.46, ytick={-2,-1,0,1,2}, yticklabels={−2,−1,0,1,2}]
\Aband{\tBc}\Afull{\tAc}{\tBc}
\end{axis}
\begin{axis}[Ap, at={(732.55pt,-321.3pt)}, height=230.7pt, ymin=-4.32, ymax=2.84, ytick={-4,-2,0,2}, yticklabels={−4,−2,0,2}]
\Aband{\tBd}\Afull{\tAd}{\tBd}
\end{axis}
\begin{axis}[Ap, at={(957.3pt,-321.3pt)}, height=230.7pt, ymin=-2.72, ymax=2.5, ytick={-2,-1,0,1,2}, yticklabels={−2,−1,0,1,2}]
\Aband{\tBe}\Afull{\tAe}{\tBe}
\end{axis}
% A strips
\foreach \L/\T in {58.3/\Fa, 283.05/\Fb, 507.8/\Fc, 732.55/\Fd, 957.3/\Fe}{
 \pgfmathsetmacro{\R}{\L+209}
 \strip{\L}{5}{\R}{22.7}{\fA Binary X and Z}
 \strip{\L}{22.7}{\R}{40.7}{\fA \T}
 \strip{\L}{285.7}{\R}{303.3}{\fA Continuous X and Z}
 \strip{\L}{303.3}{\R}{321.3}{\fA \T}
}
\node[anchor=north west, inner sep=0pt, font=\fontsize{44}{44}\selectfont] at (6pt,-5pt) {A};
\node[rotate=90, font=\fL] at (37pt,-296pt) {β(t)};
\node[font=\fL] at (612pt,-569pt) {Time (years)};
\node[font=\fL] at (535pt,-590pt) {Bandwidth};
\node[font=\fL] at (548pt,-605.5pt) {Confidence interval type};
\begin{axis}[hide axis, scale only axis, width=5pt, height=5pt, xmin=0, xmax=1, ymin=0, ymax=1, at={(561pt,-580.5pt)}, anchor=north west,
 legend columns=3, legend image code/.code={\draw[#1] (0pt,0pt) -- (12pt,0pt);},
 legend style={at={(0,1)}, anchor=north west, draw=none, fill=none, inner sep=0pt, font=\fL, legend cell align=left,
  nodes={inner sep=0.5pt, text height=6.5pt, text depth=2pt},
  /tikz/every odd column/.append style={column sep=3pt}, /tikz/every even column/.append style={column sep=4pt}}]
\addlegendimage{c2, line width=1.8pt}\addlegendentry{0.2}
\addlegendimage{c4, line width=1.8pt}\addlegendentry{0.4}
\addlegendimage{c6, line width=1.8pt}\addlegendentry{0.6}
\addlegendimage{c3, line width=1.8pt}\addlegendentry{0.3}
\addlegendimage{c5, line width=1.8pt}\addlegendentry{0.5}
\addlegendimage{co, line width=1.8pt}\addlegendentry{Optimal}
\end{axis}
\begin{axis}[hide axis, scale only axis, width=5pt, height=5pt, xmin=0, xmax=1, ymin=0, ymax=1, at={(673pt,-580.5pt)}, anchor=north west,
 legend image code/.code={\draw[#1] (0pt,0pt) -- (13pt,0pt);},
 legend style={at={(0,1)}, anchor=north west, draw=none, fill=none, inner sep=0pt, font=\fL, legend cell align=left,
  nodes={inner sep=0.5pt, text height=6.5pt, text depth=2pt}, /tikz/every odd column/.append style={column sep=3pt}}]
\addlegendimage{black, line width=1.8pt}\addlegendentry{Truth}
\end{axis}
\begin{axis}[hide axis, scale only axis, width=5pt, height=5pt, xmin=0, xmax=1, ymin=0, ymax=1, at={(603pt,-601pt)}, anchor=north west,
 legend columns=2, legend image code/.code={\draw[#1] (0pt,0pt) -- (12pt,0pt);},
 legend style={at={(0,1)}, anchor=north west, draw=none, fill=none, inner sep=0pt, font=\fL, legend cell align=left,
  nodes={inner sep=0.5pt, text height=6.5pt, text depth=2pt},
  /tikz/every odd column/.append style={column sep=4pt}, /tikz/every even column/.append style={column sep=2pt}}]
\addlegendimage{black, line width=1pt, dash pattern=on 4pt off 2pt}\addlegendentry{Empirical SD}
\addlegendimage{black, line width=1pt, dash pattern=on 1pt off 1.2pt}\addlegendentry{Fitted SE}
\end{axis}
% ======================= B =======================
\begin{axis}[Bp, noX, at={(69.5pt,-651.7pt)}]
\Bflat
\addplot[Bm,co] coordinates {(1.3,.93)(1.35,.93)(1.4,.93)(1.45,.93)(1.5,.925)(1.55,.92)(1.6,.915)(1.65,.91)(1.7,.905)(1.75,.845)(1.8,.72)};
\addplot[Bm,c2] coordinates {(1.65,.945)(1.7,.93)(1.75,.885)(1.8,.79)};
\addplot[Bm,c3] coordinates {(1.65,.95)(1.7,.94)(1.75,.92)(1.8,.90)};
\addplot[Bm,c4] coordinates {(1.75,.94)(1.8,.93)};
\addplot[Bm,c6] coordinates {(1.8,.945)};
\end{axis}
\begin{axis}[Bp, noX, noY, at={(286pt,-651.7pt)}]
\Bflat
\addplot[Bm,co] coordinates {(1.3,.94)(1.35,.935)(1.4,.93)(1.45,.935)(1.5,.925)(1.55,.92)(1.6,.92)(1.65,.92)(1.7,.90)(1.75,.83)(1.75,.82)(1.8,.72)(1.8,.705)};
\addplot[Bm,c2] coordinates {(1.65,.94)(1.7,.93)(1.75,.87)(1.8,.805)};
\addplot[Bm,c3] coordinates {(1.65,.95)(1.7,.93)(1.75,.91)(1.8,.88)};
\addplot[Bm,c4] coordinates {(1.8,.93)};
\end{axis}
\begin{axis}[Bp, noX, noY, at={(502.5pt,-651.7pt)}]
\Bflat
\addplot[Bm,c6] coordinates {(.25,.93)(.3,.93)(.35,.925)(.4,.925)(.45,.93)(.5,.93)(1.45,.96)(1.5,.965)(1.55,.965)(1.6,.965)(1.65,.96)(1.7,.96)};
\addplot[Bm,co] coordinates {(1.3,.95)(1.35,.945)(1.4,.94)(1.45,.925)(1.5,.92)(1.55,.925)(1.6,.875)(1.65,.89)(1.7,.88)(1.75,.825)(1.8,.70)(1.8,.64)};
\addplot[Bm,c2] coordinates {(1.65,.94)(1.7,.93)(1.75,.91)(1.8,.80)};
\addplot[Bm,c3] coordinates {(1.65,.95)(1.7,.93)(1.75,.92)(1.8,.88)};
\addplot[Bm,c4] coordinates {(1.8,.925)};
\end{axis}
\begin{axis}[Bp, noX, noY, at={(719pt,-651.7pt)}]
\Bflat
\addplot[Bm,co] coordinates {(.7,.93)(.75,.925)(.8,.92)(.85,.925)(.9,.935)(1.3,.94)(1.35,.935)(1.4,.93)(1.45,.935)(1.5,.93)(1.55,.93)(1.6,.935)(1.65,.93)(1.7,.925)(1.75,.85)(1.8,.745)(1.8,.71)};
\addplot[Bm,c3] coordinates {(.7,.935)(.75,.93)(.8,.93)(.85,.935)(1.65,.95)(1.7,.945)(1.75,.93)(1.8,.89)};
\addplot[Bm,c4] coordinates {(.6,.93)(.65,.92)(.7,.91)(.75,.905)(.8,.90)(.85,.905)(.9,.91)(.95,.93)};
\addplot[Bm,c5] coordinates {(.5,.93)(.55,.90)(.6,.875)(.65,.85)(.7,.84)(.75,.83)(.8,.83)(.85,.84)(.9,.86)(.95,.89)(1.0,.92)};
\addplot[Bm,c6] coordinates {(.45,.93)(.5,.91)(.55,.875)(.6,.84)(.65,.79)(.7,.73)(.75,.69)(.8,.69)(.85,.72)(.9,.76)(.95,.82)(1.0,.87)(1.05,.92)};
\addplot[Bm,c2] coordinates {(1.65,.95)(1.7,.94)(1.75,.90)(1.8,.84)};
\end{axis}
\begin{axis}[Bp, noX, noY, at={(935.5pt,-651.7pt)}]
\Bflat
\addplot[Bm,c6] coordinates {(.25,.925)(.3,.915)(.35,.91)(.4,.915)(.45,.93)(1.8,.925)};
\addplot[Bm,co] coordinates {(1.3,.935)(1.35,.93)(1.4,.93)(1.45,.93)(1.5,.925)(1.55,.925)(1.6,.925)(1.65,.925)(1.7,.915)(1.75,.825)(1.8,.72)};
\addplot[Bm,c2] coordinates {(1.65,.95)(1.7,.94)(1.75,.86)(1.8,.79)};
\addplot[Bm,c3] coordinates {(1.65,.95)(1.7,.94)(1.75,.91)(1.8,.87)};
\end{axis}
\begin{axis}[Bp, at={(69.5pt,-801.7pt)}]
\Bflat
\addplot[Bm,c6] coordinates {(1.15,.96)(1.2,.96)(1.25,.96)(1.3,.955)(1.35,.955)(1.4,.955)(1.45,.95)(1.5,.945)(1.55,.945)(1.6,.94)(1.65,.94)(1.7,.935)(1.75,.93)(1.8,.925)};
\addplot[Bm,co] coordinates {(0,.92)(1.2,.93)(1.25,.925)(1.3,.92)(1.35,.92)(1.4,.915)(1.45,.89)(1.5,.88)(1.55,.89)(1.6,.89)(1.65,.89)(1.7,.88)(1.75,.76)(1.8,.58)};
\addplot[Bm,c2] coordinates {(1.65,.93)(1.7,.92)(1.75,.86)(1.8,.79)};
\addplot[Bm,c3] coordinates {(1.65,.935)(1.7,.925)(1.75,.90)(1.8,.87)};
\addplot[Bm,c4] coordinates {(1.75,.92)(1.8,.90)};
\addplot[Bm,c5] coordinates {(1.75,.925)(1.8,.91)};
\end{axis}
\begin{axis}[Bp, noY, at={(286pt,-801.7pt)}]
\Bflat
\addplot[Bm,c6] coordinates {(1.0,.96)(1.1,.96)(1.2,.955)(1.3,.95)(1.4,.945)(1.5,.94)(1.6,.935)(1.7,.93)(1.75,.925)(1.8,.92)};
\addplot[Bm,co] coordinates {(0,.92)(1.2,.93)(1.25,.92)(1.3,.915)(1.35,.92)(1.4,.92)(1.45,.885)(1.5,.88)(1.55,.875)(1.6,.87)(1.65,.87)(1.7,.88)(1.75,.80)(1.8,.575)};
\addplot[Bm,c2] coordinates {(1.65,.93)(1.7,.92)(1.75,.88)(1.8,.80)};
\addplot[Bm,c3] coordinates {(1.65,.94)(1.7,.93)(1.75,.91)(1.8,.90)};
\addplot[Bm,c4] coordinates {(1.8,.91)};
\end{axis}
\begin{axis}[Bp, noY, at={(502.5pt,-801.7pt)}]
\Bflat
\addplot[Bm,co] coordinates {(1.15,.93)(1.2,.93)(1.25,.935)(1.3,.93)(1.35,.93)(1.4,.925)(1.45,.90)(1.5,.89)(1.55,.85)(1.6,.84)(1.65,.83)(1.7,.83)(1.75,.72)(1.8,.54)(1.8,.525)};
\addplot[Bm,c2] coordinates {(1.65,.90)(1.7,.87)(1.75,.83)(1.8,.725)};
\addplot[Bm,c3] coordinates {(1.65,.92)(1.7,.90)(1.75,.88)(1.8,.83)};
\addplot[Bm,c4] coordinates {(1.7,.92)(1.75,.90)(1.8,.88)};
\addplot[Bm,c5] coordinates {(1.75,.91)(1.8,.90)};
\addplot[Bm,c6] coordinates {(1.75,.93)(1.8,.91)};
\end{axis}
\begin{axis}[Bp, noY, at={(719pt,-801.7pt)}]
\Bflat
\addplot[Bm,c5] coordinates {(.6,.93)(.65,.925)(.7,.92)(.75,.91)(.8,.91)(.85,.915)(.9,.925)};
\addplot[Bm,co] coordinates {(.55,.935)(.6,.925)(.65,.92)(.7,.92)(.75,.92)(.8,.92)(.85,.92)(.9,.925)(1.05,.915)(1.1,.915)(1.15,.92)(1.2,.92)(1.25,.92)(1.3,.915)(1.35,.92)(1.4,.915)(1.45,.915)(1.5,.915)(1.55,.92)(1.6,.92)(1.65,.915)(1.7,.91)(1.75,.84)(1.8,.705)};
\addplot[Bm,c6] coordinates {(.55,.93)(.6,.91)(.65,.89)(.7,.87)(.75,.86)(.8,.855)(.85,.86)(.9,.89)(.95,.92)};
\addplot[Bm,c2] coordinates {(1.65,.94)(1.7,.93)(1.75,.90)(1.8,.85)};
\addplot[Bm,c3] coordinates {(1.65,.945)(1.7,.935)(1.75,.92)(1.8,.90)};
\end{axis}
\begin{axis}[Bp, noY, at={(935.5pt,-801.7pt)}]
\Bflat
\addplot[Bm,co] coordinates {(1.3,.93)(1.35,.93)(1.4,.925)(1.45,.88)(1.5,.875)(1.55,.87)(1.6,.865)(1.65,.87)(1.7,.86)(1.75,.77)(1.8,.58)};
\addplot[Bm,c2] coordinates {(1.65,.93)(1.7,.92)(1.75,.86)(1.8,.79)};
\addplot[Bm,c3] coordinates {(1.65,.935)(1.7,.925)(1.75,.90)(1.8,.875)};
\addplot[Bm,c4] coordinates {(1.75,.92)(1.8,.90)};
\addplot[Bm,c5] coordinates {(1.8,.90)};
\addplot[Bm,c6] coordinates {(1.75,.925)(1.8,.91)};
\end{axis}
\foreach \L/\T in {69.5/\Fa, 286/\Fb, 502.5/\Fc, 719/\Fd, 935.5/\Fe}{
 \pgfmathsetmacro{\R}{\L+212.5}
 \strip{\L}{631.7}{\R}{651.7}{\fB \T}
}
\strip[-90]{1148}{651.7}{1166}{798.3}{\fB Binary X and Z}
\strip[-90]{1148}{801.7}{1166}{948.3}{\fB Continuous X and Z}
\node[anchor=north west, inner sep=0pt, font=\fontsize{44}{44}\selectfont] at (11pt,-630pt) {B};
\node[rotate=90, font=\fLB] at (37pt,-800pt) {Coverage probability};
\node[font=\fLB] at (608pt,-968pt) {Time (years)};
\node[font=\fLB] at (541pt,-993pt) {Bandwidth};
\begin{axis}[hide axis, scale only axis, width=5pt, height=5pt, xmin=0, xmax=1, ymin=0, ymax=1, at={(574.5pt,-981.5pt)}, anchor=north west,
 legend columns=3, legend image code/.code={\fill[#1] (3pt,0pt) circle (3.1pt);},
 legend style={at={(0,1)}, anchor=north west, draw=none, fill=none, inner sep=0pt, font=\fB, legend cell align=left,
  nodes={inner sep=0.5pt, text height=7.5pt, text depth=2.5pt},
  /tikz/every odd column/.append style={column sep=4pt}, /tikz/every even column/.append style={column sep=6pt}}]
\addlegendimage{c2}\addlegendentry{0.2}
\addlegendimage{c4}\addlegendentry{0.4}
\addlegendimage{c6}\addlegendentry{0.6}
\addlegendimage{c3}\addlegendentry{0.3}
\addlegendimage{c5}\addlegendentry{0.5}
\addlegendimage{co}\addlegendentry{Optimal}
\end{axis}
% ======================= C =======================
\begin{axis}[Cp, noX, height=146.6pt, at={(63.3pt,-1046.7pt)}]
\addplot[co,Cl] coordinates {(0,.53)(.02,.42)(.05,.25)(.1,.07)(.2,.07)(.3,.08)(.4,.1)(.5,.11)(.55,.13)(.57,.1)(.65,.14)(.67,.11)(.75,.17)(.77,.13)(.85,.2)(.87,.15)(.95,.26)(.97,.2)(1.02,.33)(1.04,.24)(1.08,.42)(1.1,.32)(1.13,.47)(1.14,.37)(1.15,.45)(1.151,2.5)};
\addplot[c2,Cl] coordinates {(0,.26)(.05,.15)(.1,.08)(.2,.07)(.5,.08)(.75,.1)(1.0,.15)(1.25,.2)(1.35,.26)(1.5,.32)(1.6,.36)(1.64,.52)(1.65,2.5)};
\Csm{\tCa}
\end{axis}
\begin{axis}[Cp, noX, noY, height=146.6pt, at={(281pt,-1046.7pt)}]
\addplot[co,Cl] coordinates {(0,.57)(.02,.45)(.05,.25)(.1,.07)(.2,.07)(.3,.08)(.4,.09)(.5,.1)(.55,.12)(.57,.09)(.65,.13)(.67,.1)(.75,.15)(.77,.11)(.85,.19)(.87,.14)(.95,.24)(.97,.18)(1.02,.33)(1.04,.37)(1.05,.42)(1.051,2.5)(1.1,nan)(1.15,2.5)(1.15,.68)(1.2,.86)(1.2,.58)(1.25,.55)(1.25,.4)(1.251,2.5)(1.3,nan)(1.35,2.5)(1.35,1.68)};
\addplot[c2,Cl] coordinates {(0,.27)(.05,.15)(.1,.08)(.2,.06)(.5,.07)(.75,.09)(1.0,.13)(1.25,.2)(1.35,.27)(1.45,.32)(1.55,.38)(1.59,.43)(1.6,2.5)};
\Csm{\tCb}
\end{axis}
\begin{axis}[Cp, noX, noY, height=146.6pt, at={(498.7pt,-1046.7pt)}]
\addplot[co,Cl] coordinates {(0,.55)(.02,.45)(.05,.2)(.1,.07)(.2,.07)(.3,.08)(.4,.09)(.5,.1)(.55,.12)(.57,.09)(.65,.13)(.67,.1)(.75,.15)(.77,.11)(.85,.2)(.87,.14)(.95,.24)(.97,.18)(1.0,.27)(1.05,1.05)(1.08,.7)(1.12,.3)(1.15,.38)(1.16,.28)(1.18,.45)(1.2,.4)(1.201,2.5)(1.3,nan)(1.4,2.5)(1.4,1.25)};
\addplot[c2,Cl] coordinates {(0,.3)(.05,.15)(.1,.08)(.2,.07)(.5,.08)(.75,.1)(1.0,.15)(1.25,.22)(1.35,.3)(1.45,.35)(1.55,.43)(1.59,.45)(1.6,2.5)};
\Csm{\tCc}
\end{axis}
\begin{axis}[Cp, noX, noY, height=146.6pt, at={(716.3pt,-1046.7pt)}]
\addplot[co,Cl] coordinates {(0,.5)(.02,.35)(.05,.15)(.1,.07)(.2,.07)(.3,.09)(.35,.11)(.37,.08)(.42,.13)(.44,.1)(.48,.16)(.5,.2)(.55,.8)(.57,.6)(.6,.4)(.601,2.5)};
\addplot[c2,Cl] coordinates {(0,.25)(.05,.12)(.1,.07)(.2,.06)(.4,.08)(.6,.12)(.8,.18)(.9,.2)(1.0,.2)(1.03,.35)(1.05,.2)(1.055,2.5)(1.1,nan)(1.16,2.5)(1.16,.3)(1.25,.28)(1.3,.29)(1.4,.3)(1.51,.3)(1.512,2.5)(1.55,nan)(1.6,2.5)(1.6,.42)(1.65,.45)(1.655,2.5)};
\Csm{\tCd}
\end{axis}
\begin{axis}[Cp, noX, noY, height=146.6pt, at={(934pt,-1046.7pt)}]
\addplot[co,Cl] coordinates {(0,.65)(.02,.5)(.05,.2)(.1,.07)(.2,.07)(.3,.08)(.4,.1)(.5,.11)(.55,.13)(.57,.1)(.65,.14)(.67,.11)(.75,.17)(.77,.13)(.85,.2)(.87,.15)(.95,.26)(.97,.2)(1.05,.3)(1.08,.25)(1.1,.35)(1.13,.6)(1.16,1.1)(1.18,1.6)(1.2,2.5)};
\addplot[c2,Cl] coordinates {(0,.3)(.05,.15)(.1,.08)(.2,.07)(.5,.08)(.75,.1)(1.0,.15)(1.2,.2)(1.3,.25)(1.4,.32)(1.5,.38)(1.55,.43)(1.551,2.5)};
\Csm{\tCe}
\end{axis}
\begin{axis}[Cp, height=146pt, at={(63.3pt,-1197.3pt)}]
\addplot[co,Cl] coordinates {(0,1.42)(.05,.4)(.1,.2)(.2,.21)(.3,.26)(.5,.32)(.75,.45)(.85,.6)(.9,.58)(1.0,.8)(1.1,1.0)(1.2,1.25)(1.3,1.45)(1.35,1.6)(1.4,1.85)(1.45,2.5)};
\addplot[c2,Cl] coordinates {(0,.7)(.05,.35)(.1,.15)(.2,.1)(.5,.14)(.75,.22)(1.0,.3)(1.2,.45)(1.35,.6)(1.45,.75)(1.5,.85)(1.58,1.05)(1.63,1.35)(1.67,2.5)};
\Csm{\tCk}
\end{axis}
\begin{axis}[Cp, noY, height=146pt, at={(281pt,-1197.3pt)}]
\addplot[co,Cl] coordinates {(0,1.5)(.05,.4)(.1,.2)(.2,.22)(.3,.27)(.5,.35)(.75,.5)(1.0,.7)(1.1,.78)(1.15,.9)(1.2,1.2)(1.3,1.35)(1.35,1.6)(1.37,1.8)(1.42,1.65)(1.45,2.0)(1.47,2.5)};
\addplot[c2,Cl] coordinates {(0,.75)(.05,.35)(.1,.15)(.2,.1)(.5,.15)(.75,.23)(1.0,.3)(1.2,.5)(1.35,.63)(1.5,.85)(1.58,1.1)(1.63,1.5)(1.66,2.5)};
\Csm{\tCk}
\end{axis}
\begin{axis}[Cp, noY, height=146pt, at={(498.7pt,-1197.3pt)}]
\addplot[co,Cl] coordinates {(0,1.8)(.05,.5)(.1,.25)(.2,.25)(.3,.24)(.5,.3)(.75,.4)(.9,.5)(1.0,.65)(1.1,.83)(1.2,1.1)(1.3,1.6)(1.35,2.0)(1.38,2.5)};
\addplot[c2,Cl] coordinates {(0,.85)(.05,.35)(.1,.18)(.2,.12)(.5,.15)(.75,.22)(1.0,.33)(1.2,.5)(1.35,.7)(1.5,1.05)(1.58,1.4)(1.64,2.5)};
\Csm{\tCk}
\end{axis}
\begin{axis}[Cp, noY, height=146pt, at={(716.3pt,-1197.3pt)}]
\addplot[co,Cl] coordinates {(0,1.37)(.05,.35)(.07,.21)(.2,.34)(.375,.49)(.5,.61)(.6,.95)(.68,1.36)(.745,1.46)(.755,2.5)(.8,nan)(.84,2.5)(.84,1.83)(.845,2.5)(.9,nan)(.945,2.5)(.97,1.9)(1.0,1.86)(1.05,1.95)(1.11,2.03)(1.15,1.85)(1.2,1.75)(1.25,1.68)(1.31,2.0)(1.39,1.97)(1.45,2.03)(1.5,2.1)(1.52,2.5)};
\addplot[c2,Cl] coordinates {(0,.8)(.05,.4)(.1,.19)(.2,.16)(.5,.3)(.8,.55)(.9,.63)(1.0,.65)(1.1,.67)(1.2,.64)(1.3,.67)(1.4,.72)(1.5,.75)(1.58,.9)(1.63,1.5)(1.66,2.5)};
\Csm{\tCkd}
\end{axis}
\begin{axis}[Cp, noY, height=146pt, at={(934pt,-1197.3pt)}]
\addplot[co,Cl] coordinates {(0,1.8)(.05,.5)(.1,.23)(.2,.25)(.3,.26)(.5,.3)(.75,.38)(1.0,.52)(1.1,.65)(1.2,.85)(1.3,1.1)(1.35,1.3)(1.37,1.45)(1.4,1.4)(1.42,1.8)(1.45,2.5)};
\addplot[c2,Cl] coordinates {(0,.78)(.05,.4)(.1,.17)(.2,.12)(.5,.14)(.75,.18)(1.0,.24)(1.2,.42)(1.35,.6)(1.45,.85)(1.5,.95)(1.58,1.3)(1.63,2.5)};
\Csm{\tCk}
\end{axis}
\foreach \L/\T in {63.3/\Fa, 281/\Fb, 498.7/\Fc, 716.3/\Fd, 934/\Fe}{
 \pgfmathsetmacro{\R}{\L+213.7}
 \strip{\L}{1026.7}{\R}{1046.7}{\fB \T}
}
\strip[-90]{1147.6}{1046.7}{1166}{1193.3}{\fB Binary X and Z}
\strip[-90]{1147.6}{1197.3}{1166}{1343.3}{\fB Continuous X and Z}
\node[anchor=north west, inner sep=0pt, font=\fontsize{44}{44}\selectfont] at (10pt,-1025pt) {C};
\node[rotate=90, font=\fLB] at (37pt,-1195pt) {Mean square error};
\node[font=\fLB] at (605pt,-1362pt) {Time (years)};
\node[font=\fLB] at (538pt,-1388pt) {Bandwidth};
\begin{axis}[hide axis, scale only axis, width=5pt, height=5pt, xmin=0, xmax=1, ymin=0, ymax=1, at={(570pt,-1376.5pt)}, anchor=north west,
 legend columns=3, legend image code/.code={\draw[#1] (0pt,0pt) -- (12pt,0pt);},
 legend style={at={(0,1)}, anchor=north west, draw=none, fill=none, inner sep=0pt, font=\fB, legend cell align=left,
  nodes={inner sep=0.5pt, text height=7.5pt, text depth=2.5pt},
  /tikz/every odd column/.append style={column sep=3.5pt}, /tikz/every even column/.append style={column sep=5pt}}]
\addlegendimage{c2, line width=1.8pt}\addlegendentry{0.2}
\addlegendimage{c4, line width=1.8pt}\addlegendentry{0.4}
\addlegendimage{c6, line width=1.8pt}\addlegendentry{0.6}
\addlegendimage{c3, line width=1.8pt}\addlegendentry{0.3}
\addlegendimage{c5, line width=1.8pt}\addlegendentry{0.5}
\addlegendimage{co, line width=1.8pt}\addlegendentry{Optimal}
\end{axis}
\end{tikzpicture}
\end{document}
